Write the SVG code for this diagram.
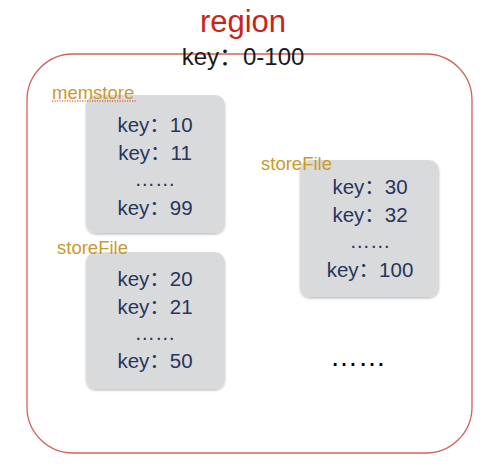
<svg xmlns="http://www.w3.org/2000/svg" width="500" height="471" viewBox="0 0 500 471">
<defs>
<filter id="sh" x="-10%" y="-10%" width="120%" height="120%">
<feDropShadow dx="0" dy="1.5" stdDeviation="1" flood-color="#000" flood-opacity="0.25"/>
</filter>
</defs>
<style>
.box{fill:#d9dadc;filter:url(#sh)}
.k{font-family:"Liberation Sans","Noto Sans CJK SC",sans-serif;font-size:20.5px;fill:#27365a;text-anchor:middle}
.lbl{font-family:"Liberation Sans",sans-serif;font-size:18.5px;fill:#c99a2e}
</style>
<rect width="500" height="471" fill="#fff"/>
<g id="region">
<rect x="27" y="54" width="445" height="399" rx="46" ry="46" fill="none" stroke="#d2635c" stroke-width="1.3"/>
<text x="243" y="32" font-family="Liberation Sans,sans-serif" font-size="31" fill="#cc2318" text-anchor="middle">region</text>
<text x="243" y="65" font-family="Liberation Sans,'Noto Sans CJK SC',sans-serif" font-size="24" fill="#1a1a1a" text-anchor="middle">key：0-100</text>
</g>
<g id="memstore">
<rect class="box" x="86" y="95" width="139" height="138" rx="10"/>
<text class="lbl" x="52" y="99">memstore</text>
<line x1="52" y1="101" x2="136" y2="101" stroke="#e03030" stroke-width="1.2" stroke-dasharray="1.2,1.3"/>
<text class="k" x="155" y="132">key：10</text>
<text class="k" x="155" y="160">key：11</text>
<text class="k" x="155" y="186">……</text>
<text class="k" x="155" y="215">key：99</text>
</g>
<g id="storefile1">
<rect class="box" x="86" y="252" width="139" height="137" rx="10"/>
<text class="lbl" x="57" y="254">storeFile</text>
<text class="k" x="155" y="286">key：20</text>
<text class="k" x="155" y="314">key：21</text>
<text class="k" x="155" y="340">……</text>
<text class="k" x="155" y="368">key：50</text>
</g>
<g id="storefile2">
<rect class="box" x="300" y="160" width="139" height="137" rx="10"/>
<text class="lbl" x="261" y="170">storeFile</text>
<text class="k" x="370" y="194">key：30</text>
<text class="k" x="370" y="222">key：32</text>
<text class="k" x="370" y="248">……</text>
<text class="k" x="370" y="277">key：100</text>
</g>
<g id="more">
<text x="358" y="366" font-family="Liberation Sans,'Noto Sans CJK SC',sans-serif" font-size="28" fill="#000" text-anchor="middle">……</text>
</g>
<g id="connectors"/>
</svg>
